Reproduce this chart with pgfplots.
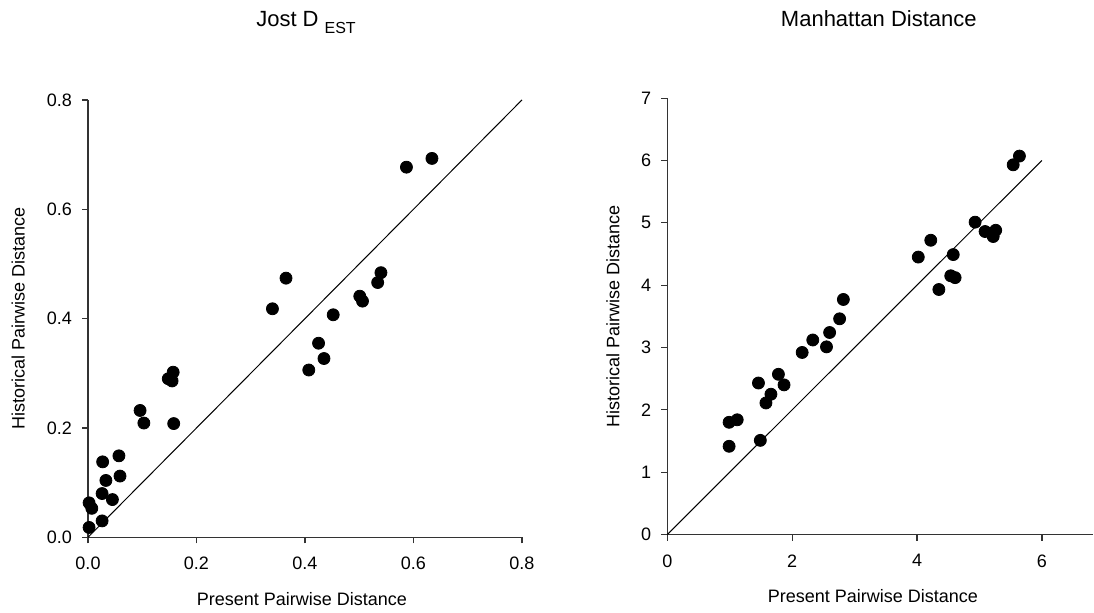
\documentclass[border=0pt]{standalone}
\usepackage{pgfplots}
\pgfplotsset{compat=1.18}
\usepackage{fontspec}
\setmainfont{Liberation Sans}

% shared look of both panels
\pgfplotsset{
  panel/.style={
    scale only axis,
    axis x line*=bottom,
    axis y line*=left,
    axis line style={black!80, line width=0.6pt},
    tick style={black!80, line width=0.6pt},
    tick align=outside,
    major tick length=3pt,
    minor tick num=0,
    clip=false,
    /pgf/number format/assume math mode=true,
    tick label style={font=\fontsize{9}{11}\selectfont},
    xticklabel style={yshift=-3.5pt},
    yticklabel style={xshift=-1.5pt},
    label style={font=\fontsize{9}{11}\selectfont},
    ylabel style={anchor=center, rotate=0},
    xlabel style={anchor=center},
  },
  dots/.style={only marks, mark=*, mark size=3pt, black},
  idline/.style={black, line width=0.5pt, no marks},
}

\begin{document}
\begin{tikzpicture}
\path[use as bounding box] (0,0) rectangle (547pt,306pt);

% left panel: Jost D_EST
\begin{axis}[
  panel,
  at={(44pt,37.35pt)}, anchor=south west,
  width=217pt, height=218.7pt,
  xmin=0, xmax=0.8, ymin=0, ymax=0.8,
  xtick={0,0.2,0.4,0.6,0.8},
  ytick={0,0.2,0.4,0.6,0.8},
  xticklabel style={/pgf/number format/.cd, fixed, fixed zerofill, precision=1},
  yticklabel style={/pgf/number format/.cd, fixed, fixed zerofill, precision=1},
  xlabel={Present Pairwise Distance},
  ylabel={Historical Pairwise Distance},
  xlabel style={at={(axis description cs:0.493,-0.142)}},
  ylabel style={at={(axis description cs:-0.161,0.5)}},
]
\addplot[idline] coordinates {(0,0) (0.8,0.8)};
\addplot[dots] coordinates {
  (0.002,0.063) (0.007,0.053) (0.002,0.018) (0.026,0.030)
  (0.026,0.080) (0.045,0.069) (0.033,0.104) (0.027,0.138)
  (0.057,0.149) (0.059,0.112) (0.096,0.232) (0.103,0.209)
  (0.158,0.208) (0.148,0.290) (0.155,0.286) (0.157,0.302)
  (0.340,0.418) (0.365,0.474) (0.407,0.306) (0.425,0.355)
  (0.435,0.327) (0.452,0.407) (0.501,0.441) (0.506,0.432)
  (0.534,0.466) (0.540,0.484) (0.587,0.677) (0.634,0.693)
};
\end{axis}

% right panel: Manhattan distance
\begin{axis}[
  panel,
  at={(333.65pt,38.75pt)}, anchor=south west,
  width=212.9pt, height=218.2pt,
  xmin=0, xmax=6.82, ymin=0, ymax=7,
  xtick={0,2,4,6},
  ytick={0,1,2,3,4,5,6,7},
  xlabel={Present Pairwise Distance},
  ylabel={Historical Pairwise Distance},
  xlabel style={at={(axis description cs:0.483,-0.141)}},
  ylabel style={at={(axis description cs:-0.1275,0.5)}},
]
\addplot[idline] coordinates {(0,0) (6,6)};
\addplot[dots] coordinates {
  (0.99,1.415) (0.99,1.80) (1.12,1.84) (1.49,1.51) (1.46,2.43)
  (1.58,2.11) (1.66,2.25) (1.78,2.57) (1.87,2.40) (2.16,2.92)
  (2.33,3.12) (2.55,3.01) (2.60,3.24) (2.76,3.46) (2.82,3.77)
  (4.02,4.45) (4.22,4.72) (4.35,3.93) (4.58,4.49) (4.54,4.15)
  (4.61,4.12) (4.93,5.01) (5.09,4.86) (5.26,4.88) (5.22,4.78)
  (5.54,5.93) (5.64,6.07)
};
\end{axis}

% panel titles
\node[anchor=base, font=\fontsize{11}{13}\selectfont] at (153pt,292.5pt)
  {Jost D\hspace{3pt}\raisebox{-3.5pt}{\fontsize{8}{9}\selectfont EST}};
\node[anchor=base, font=\fontsize{11}{13}\selectfont] at (439.4pt,292.5pt)
  {Manhattan Distance};
\end{tikzpicture}
\end{document}
